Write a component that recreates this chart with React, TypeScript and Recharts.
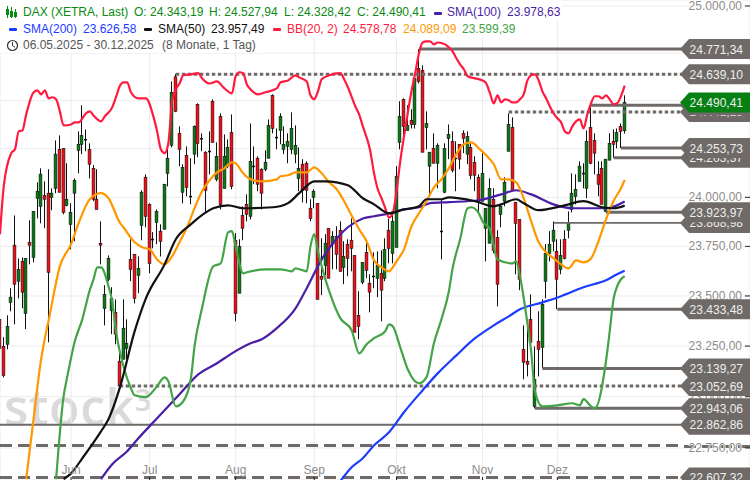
import {
  Bar,
  CartesianGrid,
  ComposedChart,
  Line,
  ReferenceLine,
  XAxis,
  YAxis,
} from 'recharts';

const highs = [23387,23294,23403,23539,23907,23689,23694,23689,23882,23928,24077,24149,24082,24144,24046,24293,24319,24252,24175,23970,24097,24340,24476,24350,24278,24165,24144,23877,23554,23704,23544,23483,23249,23483,23383,23786,23710,23699,24036,24118,23969,23822,23938,23862,24067,24252,24601,24639.1,24366,24170,24262,24201,24371,24486,24330,24237,24340,24507,24283,24434,24324,24298,24428,23817,23786,23954,24015,24381,24262,24211,24149,24242,24402,24533,24355,24434,24366,24330,24439,24371,24257,24196,24185,23990,24041,23969,23791,23812,23842,23827,23852,23877,23776,23786,23892,23704,23524,23669,23786,23609,23720,23725,23730,23791,23892,23928,24160,24497,24512,24476,24455,24617,24771.34,24686,24444,24232,24330,24278,23990,24278,24376,24340,24288,24273,24345,24340,24278,24211,24118,24227,23944,24097,24046,23832,23964,24103,24434,24413,23975,23887,23353,23383,23508,23249,23423,23483,23761,23827,23877,23786,23786,23832,23928,24123,24118,24185,24175,24345,24470,24330,24185,24185,24196,24330,24350,24355,24381,24527.94];
const lows = [22862.86,23095,23234,23423,23358,23488,23438,23334,23659,23669,23892,23867,23842,23269,23934,24021,24026,23913,23954,23735,23776,24123,24222,24237,24097,23980,23938,23659,23353,23574,23309,23259,23052.69,23185,23185,23574,23463,23514,23781,23847,23614,23740,23761,23699,23837,24056,24257,24440,24160,23969,24005,23964,24170,24206,24237,23918,24118,24283,24082,23938,24046,24149,24041,23373,23514,23781,23877,23887,24067,24031,23938,24134,24201,24330,24247,24273,24222,24175,24222,24175,24031,23974,23969,23877,23944,23483,23504,23604,23589,23634,23634,23624,23559,23599,23624,23319,23284,23559,23589,23418,23539,23494,23373,23574,23664,23664,23745,24247,24273,24345,24355,24355,24590,24232,24247,24005,24175,24046,23684,24021,24196,24128,24031,24144,24227,24170,24092,24031,23918,23980,23674,23766,23715,23448,23847,23954,24237,24031,23609,23529,23086,23100,23269,22943.06,23100,23139.27,23488,23674,23725,23433.48,23609,23684,23791,23923,23964,24082,24046,23995,24170,24118,24005,23964,23923.97,24191,24203.37,24252,24253.73,24328.42];
const opens = [23383,23249,23259,23468,23756,23574,23674,23413,23771,23694,23995,23954,24010,24021,24000,24046,24247,24252,23959,23862,24021,24242,24273,24298,24247,24149,23990,23766,23438,23584,23428,23418,23175,23185,23239,23684,23710,23604,23857,24103,23964,23786,23872,23827,23837,24123,24268,24625,24330,24026,24216,24005,24222,24481,24303,24232,24237,24497,24092,24418,24046,24160,24335,23781,23514,23907,23964,23903,24160,24201,24144,24144,24201,24528,24309,24345,24247,24262,24247,24222,24097,24170,24175,23944,24000,23969,23599,23654,23842,23761,23801,23832,23644,23761,23781,23704,23403,23569,23720,23564,23599,23589,23614,23589,23832,23715,23745,24283,24507,24345,24397,24376,24670,24659,24360,24160,24252,24175,23827,24026,24303,24288,24201,24273,24330,24222,24257,24180,24103,23980,23842,23766,23990,23796,23913,23980,24237,24360,23975,23887,23234,23175,23383,22953,23274,23244,23574,23715,23776,23725,23634,23786,23832,23938,24005,24082,24123,24046,24360,24293,24118,24149,23928,24191,24288,24288,24366,24343.19];
const closes = [23239,23105,23348,23494,23559,23634,23519,23689,23756,23928,24031,24119,23990,23619,24021,24222,24026,23923,23990,23923,24087,24273,24319,24293,24170,23990,23938,23756,23508,23689,23488,23309,23052.69,23339,23264,23634,23488,23639,24026,23903,23664,23781,23928,23776,24067,24201,24544,24444,24247,24154,24051,24000,24366,24278,24298,24036,24232,24283,24211,23964,24211,24257,24056,23413,23750,23842,23913,24185,24154,24067,24021,24180,24371,24355,24303,24418,24273,24288,24355,24268,24149,24036,24036,23892,24031,23483,23584,23766,23589,23801,23710,23624,23699,23689,23740,23319,23348,23669,23629,23519,23594,23654,23529,23735,23740,23877,24108,24418,24366,24371,24376,24617,24601,24232,24381,24232,24175,24268,23822,24252,24324,24139,24196,24196,24303,24314,24113,24113,23975,24123,23944,24046,23730,23559,23954,24077,24376,24036,23867,23584,23170,23160,23269,23086,23234,23458,23715,23761,23832,23584,23704,23689,23872,24021,24041,24160,24118,24288,24175,24227,24067,23964,24196,24278,24273,24335,24340,24490.41];

const bbUpper: [number, number][] = [[0,23812],[1,24056],[3,24227],[4,24247],[5,24340],[6,24345],[7,24428],[9,24544],[10,24554],[11,24533],[12,24554],[13,24512],[14,24518],[15,24507],[16,24444],[17,24371],[19,24376],[20,24387],[21,24387],[23,24434],[24,24444],[25,24423],[27,24392],[28,24418],[30,24465],[31,24518],[32,24575],[33,24596],[34,24596],[35,24544],[37,24512],[39,24512],[41,24418],[42,24340],[43,24247],[44,24227],[45,24278],[46,24497],[47,24559],[48,24590],[49,24633],[51,24638],[53,24644],[54,24617],[56,24590],[58,24601],[60,24564],[62,24538],[63,24628],[64,24649],[65,24644],[66,24585],[67,24559],[69,24533],[71,24544],[74,24564],[75,24596],[77,24606],[79,24633],[80,24622],[82,24601],[83,24528],[84,24507],[85,24549],[86,24612],[88,24633],[91,24644],[92,24612],[93,24570],[95,24470],[96,24428],[97,24366],[99,24237],[100,24123],[101,24041],[102,23995],[103,23944],[104,23897],[105,23918],[106,24031],[107,24185],[108,24314],[109,24434],[110,24549],[111,24644],[112,24749],[113,24806],[114,24812],[115,24812],[116,24796],[117,24806],[119,24796],[120,24780],[121,24759],[122,24723],[123,24691],[124,24665],[125,24628],[127,24617],[129,24606],[130,24590],[131,24538],[132,24486],[133,24528],[134,24491],[135,24507],[136,24502],[137,24491],[138,24491],[139,24507],[140,24533],[141,24606],[142,24633],[143,24638],[144,24606],[145,24549],[146,24512],[147,24470],[148,24434],[149,24408],[150,24387],[151,24340],[152,24330],[153,24366],[154,24392],[155,24402],[156,24355],[157,24428],[158,24486],[159,24523],[160,24523],[161,24512],[162,24528],[163,24507],[164,24481],[165,24486],[166,24523],[167,24578.78]];
const bbMiddle: [number, number][] = [[7,22599],[9,22895],[11,23185],[12,23289],[13,23378],[16,23649],[19,23761],[21,23867],[24,23990],[27,24021],[29,23995],[32,23872],[33,23847],[36,23771],[38,23745],[40,23735],[42,23684],[44,23659],[46,23699],[48,23771],[50,23847],[52,23944],[54,24031],[56,24087],[58,24128],[60,24149],[62,24180],[63,24175],[65,24123],[67,24092],[70,24082],[74,24092],[75,24108],[77,24113],[79,24128],[82,24128],[84,24154],[86,24123],[88,24077],[90,24041],[92,23980],[94,23907],[96,23837],[98,23776],[100,23679],[102,23644],[104,23624],[105,23644],[106,23674],[108,23735],[110,23852],[112,23918],[114,23980],[116,24051],[118,24092],[120,24149],[122,24222],[124,24273],[126,24283],[128,24252],[130,24216],[132,24170],[134,24092],[136,24092],[138,24077],[140,23995],[142,23877],[144,23771],[146,23720],[148,23689],[150,23659],[152,23639],[154,23679],[156,23669],[158,23689],[160,23776],[162,23887],[164,23980],[166,24046],[167,24089.09]];
const bbLower: [number, number][] = [[15,22599],[17,23002],[18,23100],[20,23274],[22,23383],[24,23529],[25,23584],[26,23644],[27,23644],[29,23549],[30,23473],[31,23324],[33,23150],[35,23042],[36,23007],[39,22998],[42,23052],[44,23095],[45,23076],[47,22953],[49,22978],[51,23086],[52,23249],[54,23438],[57,23649],[59,23664],[61,23822],[62,23827],[63,23750],[65,23614],[66,23619],[71,23634],[75,23634],[78,23624],[79,23639],[82,23624],[83,23750],[84,23812],[85,23725],[86,23649],[88,23524],[91,23388],[94,23329],[96,23214],[98,23259],[100,23289],[103,23324],[104,23358],[105,23348],[107,23244],[109,23135],[112,23066],[114,23095],[116,23264],[118,23383],[120,23524],[121,23639],[123,23786],[125,23944],[126,23949],[128,23918],[129,23877],[131,23837],[133,23684],[137,23664],[138,23674],[139,23599],[141,23363],[142,23224],[143,23027],[145,22953],[149,22958],[153,22968],[155,22958],[156,22988],[158,22953],[159,22943],[162,23175],[163,23324],[164,23483],[165,23549],[166,23584],[167,23599.39]];
const sma200: [number, number][] = [[91,22590],[94,22657],[97,22700],[100,22763],[104,22826],[108,22924],[113,23032],[117,23115],[122,23204],[127,23289],[132,23353],[136,23398],[139,23433],[145,23468],[150,23499],[156,23544],[162,23579],[165,23609],[167,23626.58]];
const sma100: [number, number][] = [[27,22599],[30,22671],[34,22734],[37,22797],[42,22895],[48,23012],[53,23110],[58,23165],[62,23214],[67,23264],[70,23284],[74,23339],[79,23438],[82,23539],[86,23684],[89,23766],[93,23847],[97,23892],[100,23903],[104,23918],[108,23938],[112,23949],[115,23970],[120,23975],[128,23985],[134,24015],[138,24036],[142,24015],[148,23964],[153,23944],[162,23944],[167,23978.63]];
const sma50: [number, number][] = [[17,22599],[19,22627],[22,22700],[27,22831],[29,22890],[32,23042],[36,23324],[39,23488],[44,23659],[47,23786],[51,23862],[57,23944],[61,23959],[65,23944],[73,23949],[77,23970],[80,24021],[84,24082],[87,24082],[93,24062],[97,23995],[100,23964],[104,23918],[108,23938],[112,23954],[114,23990],[118,23990],[120,24000],[127,23980],[132,23954],[134,23964],[138,23990],[140,23970],[144,23934],[151,23959],[156,23980],[161,23949],[164,23944],[167,23957.49]];

const monthDays = [19, 40, 63, 84, 106, 129, 149];
const monthLabels = ['Jun', 'Jul', 'Aug', 'Sep', 'Okt', 'Nov', 'Dez'];
const priceTicks = [22750, 23000, 23250, 23500, 23750, 24000, 24250, 24500, 24750, 25000];

// levels, lowest first so the higher labels sit on top
const levelValues = [22607.32, 22862.86, 22943.06, 23052.69, 23139.27, 23433.48, 23868.98, 23923.97, 24203.37, 24253.73, 24441.23, 24476.2, 24490.41, 24639.1, 24771.34];
const levelStarts = [0, 0, 143, 32, 145, 149, 148, 162, 164, 166, 136, 158, 167, 47, 112];
const levelKinds = ['dashed', 'thin', 'solid', 'dotted', 'solid', 'solid', 'thin', 'solid', 'solid', 'solid', 'dotted', 'solid', 'none', 'dotted', 'solid'];
const unlabelledDashed = 22762;
const lastClose = 24490.41;

const WIDTH = 750;
const HEIGHT = 480;
const GREY = '#6f6a67';
const FONT = '"Liberation Sans", Arial, sans-serif';
const DOMAIN: [number, number] = [22595, 25032];
const X_DOMAIN: [number, number] = [0, 200.5];
const LEVEL_END = 182.5;

const fmt = (v: number) =>
  v.toLocaleString('de-DE', { minimumFractionDigits: 2, maximumFractionDigits: 2 });

const lookup = (list: [number, number][], day: number) => {
  const hit = list.find((p) => p[0] === day);
  return hit ? hit[1] : null;
};

const table = highs.map((high, day) => ({
  day,
  high,
  low: lows[day],
  open: opens[day],
  close: closes[day],
  range: [lows[day], high],
  bbUpper: lookup(bbUpper, day),
  bbMiddle: lookup(bbMiddle, day),
  bbLower: lookup(bbLower, day),
  sma200: lookup(sma200, day),
  sma100: lookup(sma100, day),
  sma50: lookup(sma50, day),
}));

const Candle = (props: any) => {
  const { x, y, width, height, payload } = props;
  const { high, low, open, close } = payload;
  // the axis is logarithmic, so place the body by log ratio inside the high-low bar
  const span = Math.log(high / low) || 1;
  const top = y + (height * Math.log(high / Math.max(open, close))) / span;
  const bottom = y + (height * Math.log(high / Math.min(open, close))) / span;
  const cx = Math.round(x + width / 2 - 0.5) + 0.5;
  return (
    <g>
      <line x1={cx} x2={cx} y1={y} y2={y + height} stroke="#111" strokeWidth={1} />
      {Math.abs(bottom - top) < 1.5 ? (
        <rect x={cx - 1.5} y={top - 0.5} width={3} height={1.5} fill="#111" />
      ) : (
        <rect
          x={cx - 1.4}
          y={top}
          width={2.8}
          height={bottom - top}
          fill={close >= open ? '#067d10' : '#ff0a14'}
          stroke="#111"
          strokeWidth={0.6}
        />
      )}
    </g>
  );
};

const PriceTick = (props: any) => {
  const { y, payload } = props;
  const crossed = payload.value === priceTicks[0];
  return (
    <g>
      {/* the long dashed level runs behind this one label */}
      {crossed && (
        <line x1={684} x2={750} y1={y - 1.5} y2={y - 1.5} stroke={GREY} {...levelStroke('dashed')} />
      )}
      <text
        x={742}
        y={y + 4}
        textAnchor="end"
        fontSize={12}
        fontFamily={FONT}
        fill="#8c8c8c"
        stroke="#fff"
        strokeWidth={crossed ? 1 : 3}
        paintOrder="stroke"
      >
        {fmt(payload.value)}
      </text>
      <line x1={745} x2={750} y1={y} y2={y} stroke="#222" />
    </g>
  );
};

const LevelTick = (props: any) => {
  const { y, payload } = props;
  const fill = payload.value === lastClose ? '#078013' : GREY;
  const points = `680,${y} 689,${y - 10} 750,${y - 10} 750,${y + 10} 689,${y + 10}`;
  return (
    <g>
      <polygon points={points} fill={fill} />
      <text x={743} y={y + 4.5} textAnchor="end" fontSize={12} fontFamily={FONT} fill="#eeeeee">
        {fmt(payload.value)}
      </text>
    </g>
  );
};

const MonthTick = (props: any) => {
  const { x, payload } = props;
  return (
    <g>
      <text x={x} y={474} textAnchor="middle" fontSize={12} fontFamily={FONT} fill="#8c8c8c">
        {monthLabels[monthDays.indexOf(payload.value)]}
      </text>
      <line x1={x} x2={x} y1={477} y2={480} stroke="#222" />
    </g>
  );
};

function levelStroke(kind: string) {
  if (kind === 'dotted') return { strokeWidth: 3, strokeDasharray: '3.5 2.5' };
  if (kind === 'dashed') return { strokeWidth: 3, strokeDasharray: '12 6' };
  if (kind === 'thin') return { strokeWidth: 1.8 };
  return { strokeWidth: 3 };
}

const legendRows = [
  { top: 0, height: 21, width: 562 },
  { top: 21, height: 16, width: 520 },
  { top: 37, height: 16, width: 262 },
];

const legendTexts = [
  { text: 'DAX (XETRA, Last)', left: 23, top: 5, color: '#0a8a12' },
  { text: 'O: 24.343,19', left: 134, top: 5, color: '#0a8a12' },
  { text: 'H: 24.527,94', left: 209, top: 5, color: '#0a8a12' },
  { text: 'L: 24.328,42', left: 284, top: 5, color: '#0a8a12' },
  { text: 'C: 24.490,41', left: 357, top: 5, color: '#0a8a12' },
  { text: 'SMA(100)', left: 447, top: 5, color: '#4a1fa8' },
  { text: '23.978,63', left: 507, top: 5, color: '#4a1fa8' },
  { text: 'SMA(200)', left: 23, top: 22, color: '#1c3cff' },
  { text: '23.626,58', left: 83, top: 22, color: '#1c3cff' },
  { text: 'SMA(50)', left: 158, top: 22, color: '#111' },
  { text: '23.957,49', left: 211, top: 22, color: '#111' },
  { text: 'BB(20, 2)', left: 287, top: 22, color: '#ff1a40' },
  { text: '24.578,78', left: 343, top: 22, color: '#ff1a40' },
  { text: '24.089,09', left: 403, top: 22, color: '#ff9800' },
  { text: '23.599,39', left: 462, top: 22, color: '#43a347' },
  { text: '06.05.2025 - 30.12.2025', left: 23, top: 38, color: '#555' },
  { text: '(8 Monate, 1 Tag)', left: 162, top: 38, color: '#555' },
];

const legendDashes = [
  { left: 434, top: 12, color: '#4a1fa8' },
  { left: 9, top: 28, color: '#1c3cff' },
  { left: 144, top: 28, color: '#111' },
  { left: 273, top: 28, color: '#ff1a40' },
];

const Legend = () => (
  <>
    {legendRows.map((r) => (
      <div
        key={r.top}
        style={{ position: 'absolute', left: 0, top: r.top, width: r.width, height: r.height, background: '#fff' }}
      />
    ))}
    {legendDashes.map((d) => (
      <div
        key={d.left}
        style={{ position: 'absolute', left: d.left, top: d.top, width: 8, height: 3, borderRadius: 1, background: d.color }}
      />
    ))}
    {legendTexts.map((t) => (
      <span
        key={t.text}
        style={{
          position: 'absolute',
          left: t.left,
          top: t.top,
          color: t.color,
          fontFamily: FONT,
          fontSize: 12,
          lineHeight: '14px',
          whiteSpace: 'nowrap',
        }}
      >
        {t.text}
      </span>
    ))}
    <svg style={{ position: 'absolute', left: 5, top: 6 }} width={13} height={13}>
      <g stroke="#0a8a12" fill="none">
        <path d="M2.5 0V12M6.5 1V12M10.5 3V12" />
        <rect x={1.5} y={3.5} width={2} height={5} fill="#0a8a12" />
        <rect x={5.5} y={5.5} width={2} height={5} fill="#0a8a12" />
        <rect x={9.5} y={6.5} width={2} height={4} fill="#0a8a12" />
      </g>
    </svg>
    <svg style={{ position: 'absolute', left: 6, top: 39 }} width={13} height={13}>
      <circle cx={6.5} cy={6.5} r={5} fill="none" stroke="#333" strokeWidth={1.2} />
      <path d="M6.5 3.2V6.7L9 8.2" fill="none" stroke="#333" />
    </svg>
  </>
);

export default function App() {
  return (
    <div
      style={{
        position: 'fixed',
        left: 0,
        top: 0,
        width: WIDTH,
        height: HEIGHT,
        overflow: 'hidden',
        background: '#fff',
      }}
    >
      {/* Wasserzeichen */}
      <div
        style={{
          position: 'absolute',
          left: 4,
          top: 370,
          fontFamily: '"Open Sans", sans-serif',
          fontSize: 50,
          fontWeight: 600,
          lineHeight: '60px',
          color: '#dadada',
          letterSpacing: 0.5,
        }}
      >
        stock
        <span style={{ fontSize: 30, verticalAlign: 14 }}>3</span>
      </div>

      <ComposedChart
        width={WIDTH}
        height={HEIGHT}
        data={table}
        margin={{ top: 0, right: 0, bottom: 0, left: 0 }}
        style={{ position: 'absolute', left: 0, top: 0 }}
      >
        <CartesianGrid stroke="#ececec" />
        <XAxis
          dataKey="day"
          type="number"
          domain={X_DOMAIN}
          ticks={monthDays}
          interval={0}
          height={30}
          mirror
          axisLine={false}
          tickLine={false}
          tick={<MonthTick />}
        />
        <YAxis
          type="number"
          scale="log"
          domain={DOMAIN}
          allowDataOverflow
          orientation="right"
          mirror
          width={70}
          ticks={priceTicks}
          interval={0}
          axisLine={false}
          tickLine={false}
          tick={<PriceTick />}
        />
        <YAxis
          yAxisId="levels"
          type="number"
          scale="log"
          domain={DOMAIN}
          allowDataOverflow
          orientation="right"
          mirror
          width={70}
          ticks={levelValues}
          interval={0}
          axisLine={false}
          tickLine={false}
          tick={<LevelTick />}
        />
        <ReferenceLine
          segment={[
            { x: 0, y: unlabelledDashed },
            { x: LEVEL_END, y: unlabelledDashed },
          ]}
          stroke={GREY}
          {...levelStroke('dashed')}
        />
        {levelValues.map((value, i) =>
          levelKinds[i] === 'none' ? null : (
            <ReferenceLine
              key={value}
              segment={[
                { x: levelStarts[i], y: value },
                { x: LEVEL_END, y: value },
              ]}
              stroke={GREY}
              {...levelStroke(levelKinds[i])}
            />
          )
        )}
        <Bar dataKey="range" barSize={3} shape={<Candle />} isAnimationActive={false} />
        <Line type="monotone" dataKey="sma200" stroke="#1c3cff" strokeWidth={2.2} dot={false} connectNulls isAnimationActive={false} />
        <Line type="monotone" dataKey="sma100" stroke="#4a1fa8" strokeWidth={2.2} dot={false} connectNulls isAnimationActive={false} />
        <Line type="monotone" dataKey="bbLower" stroke="#43a347" strokeWidth={2.2} dot={false} connectNulls isAnimationActive={false} />
        <Line type="monotone" dataKey="bbMiddle" stroke="#ff9800" strokeWidth={2.2} dot={false} connectNulls isAnimationActive={false} />
        <Line type="monotone" dataKey="bbUpper" stroke="#ff1a40" strokeWidth={2.2} dot={false} connectNulls isAnimationActive={false} />
        <Line type="monotone" dataKey="sma50" stroke="#111" strokeWidth={2.2} dot={false} connectNulls isAnimationActive={false} />
      </ComposedChart>

      <Legend />
    </div>
  );
}
